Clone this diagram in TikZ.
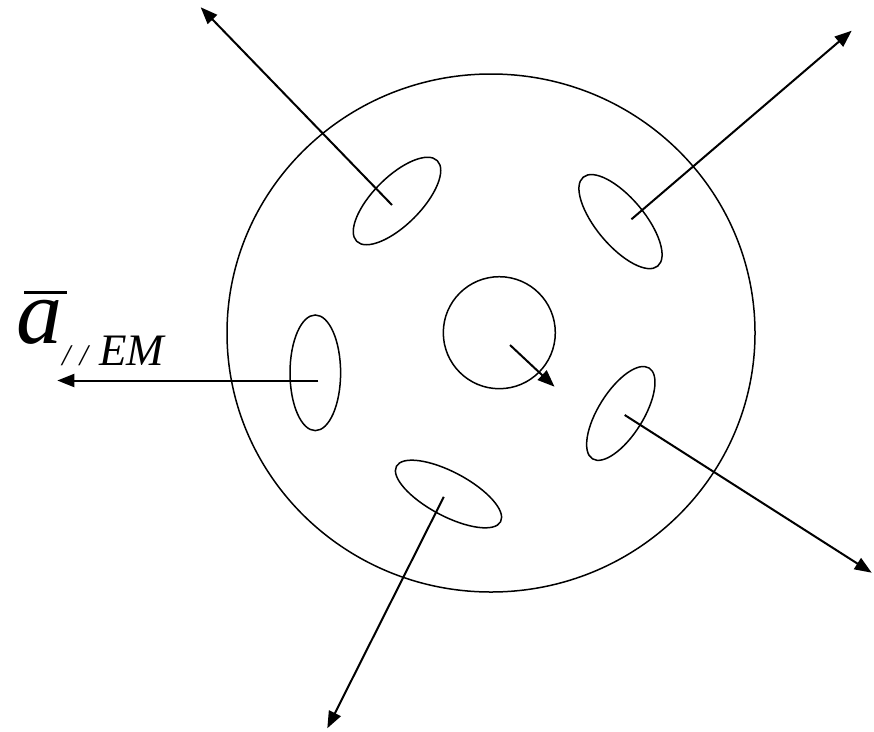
\documentclass[tikz,border=0pt]{standalone}
\usepackage{fontspec}
\setmainfont{Liberation Serif}
\usetikzlibrary{shapes.geometric,arrows.meta}
\begin{document}
\begin{tikzpicture}[x=1pt,y=-1pt,
  blob/.style={draw,ellipse,line width=1.5pt,inner sep=0pt,outer sep=0pt},
  vec/.style={line width=2pt,-{Triangle[length=17pt,width=13pt]}}]
\path[use as bounding box] (0,0) rectangle (874,731);
% big circle
\node[blob,minimum width=528,minimum height=518] (big) at (491,333) {};
% inclusions
\node[blob,minimum width=114,minimum height=48,rotate=45] (e1) at (397,201) {};
\node[blob,minimum width=116,minimum height=48,rotate=-50] (e2) at (620.5,221.6) {};
\node[blob,minimum width=50.6,minimum height=115.6] (e3) at (315.3,372.8) {};
\node[blob,circle,minimum size=112] (e4) at (499.3,332.7) {};
\node[blob,minimum width=107,minimum height=45,rotate=58] (e5) at (620.8,413.4) {};
\node[blob,minimum width=118,minimum height=44,rotate=-28] (e6) at (448.5,494) {};
% starts and tips
\coordinate (s1) at (392,205);   \coordinate (t1) at (200.7,7.3);
\coordinate (s2) at (631.4,219.3); \coordinate (t2) at (851.7,30.7);
\coordinate (s3) at (318.3,380.5); \coordinate (t3) at (57.3,380.5);
\coordinate (s4) at (510,345);   \coordinate (t4) at (554.5,386.7);
\coordinate (s5) at (624.7,415); \coordinate (t5) at (871.7,572.7);
\coordinate (s6) at (443.8,496.8); \coordinate (t6) at (327.3,728.3);
\draw[vec] (s1) -- (t1);
\draw[vec] (s2) -- (t2);
\draw[vec] (s3) -- (t3);
\draw[vec] (s4) -- (t4);
\draw[vec] (s5) -- (t5);
\draw[vec] (s6) -- (t6);
% label
\node[anchor=base west,inner sep=0pt] (lbl) at (16,343)
  {\fontsize{92}{92}\selectfont\textit{a}\kern0pt\raisebox{-22pt}{{\fontsize{30}{30}\selectfont\textit{/\kern9pt/}}\kern9pt{\fontsize{45}{45}\selectfont\textit{EM}}}};
\draw[line width=3.4pt] (24,292.3) -- (66.7,292.3);
\end{tikzpicture}
\end{document}
